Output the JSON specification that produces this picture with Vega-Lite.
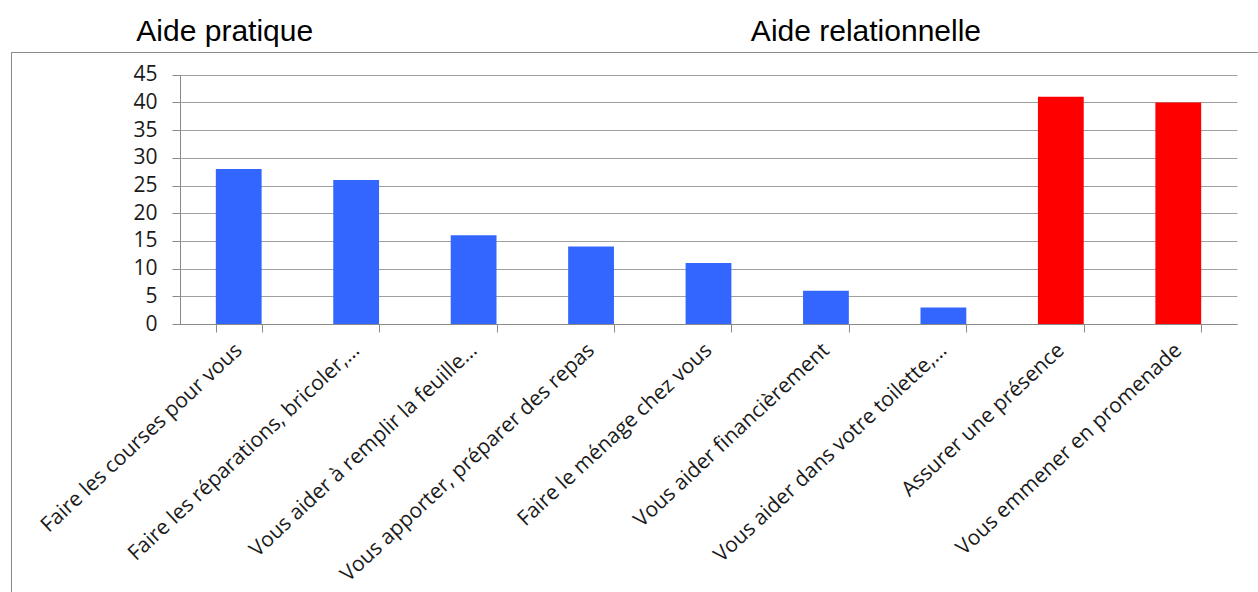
{
  "$schema": "https://vega.github.io/schema/vega-lite/v6.json",
  "autosize": {"type": "none"},
  "padding": {"left": 11, "top": 52, "right": 0, "bottom": 0},
  "width": 1247,
  "height": 540,
  "background": "white",
  "config": {
    "view": {"stroke": "#8a8a8a", "strokeWidth": 1, "strokeDash": [1247, 1787, 600]},
    "font": "Open Sans"
  },
  "datasets": {
    "aides": [
      {"aide": "Aide pratique", "libelle": "Faire les courses pour vous", "n": 28},
      {"aide": "Aide pratique", "libelle": "Faire les réparations, bricoler,…", "n": 26},
      {"aide": "Aide pratique", "libelle": "Vous aider à remplir la feuille…", "n": 16},
      {"aide": "Aide pratique", "libelle": "Vous apporter, préparer des repas", "n": 14},
      {"aide": "Aide pratique", "libelle": "Faire le ménage chez vous", "n": 11},
      {"aide": "Aide pratique", "libelle": "Vous aider financièrement", "n": 6},
      {"aide": "Aide pratique", "libelle": "Vous aider dans votre toilette,…", "n": 3},
      {"aide": "Aide relationnelle", "libelle": "Assurer une présence", "n": 41},
      {"aide": "Aide relationnelle", "libelle": "Vous emmener en promenade", "n": 40}
    ]
  },
  "data": {"name": "aides"},
  "layer": [
    {
      "mark": {"type": "bar", "stroke": null},
      "encoding": {
        "x": {
          "field": "libelle",
          "type": "nominal",
          "sort": null,
          "title": null,
          "scale": {"range": [169, 1226], "paddingInner": 0.61, "paddingOuter": 0.305},
          "axis": {
            "orient": "bottom",
            "offset": -268,
            "tickBand": "extent",
            "tickSize": 8,
            "tickColor": "#8a8a8a",
            "domainColor": "#8a8a8a",
            "labelAngle": -43,
            "labelAlign": "right",
            "labelBaseline": "middle",
            "labelPadding": 15,
            "labelFont": "Open Sans",
            "labelFontSize": 21,
            "labelColor": "#1a1a1a",
            "labelLimit": 450,
            "labelOverlap": false,
            "grid": false
          }
        },
        "y": {
          "field": "n",
          "type": "quantitative",
          "title": null,
          "scale": {"domain": [0, 45], "range": [272, 22.7], "nice": false},
          "axis": {
            "offset": -169,
            "values": [0, 5, 10, 15, 20, 25, 30, 35, 40, 45],
            "tickSize": 8,
            "tickColor": "#8a8a8a",
            "domainColor": "#8a8a8a",
            "grid": true,
            "gridColor": "#a0a0a0",
            "gridWidth": 1,
            "labelPadding": 15,
            "labelFont": "Open Sans",
            "labelFontSize": 21,
            "labelColor": "#1a1a1a"
          }
        },
        "color": {
          "field": "aide",
          "type": "nominal",
          "scale": {"domain": ["Aide pratique", "Aide relationnelle"], "range": ["#3366ff", "#ff0000"]},
          "legend": null
        }
      }
    },
    {
      "transform": [{"filter": "datum.libelle === 'Faire les courses pour vous'"}],
      "mark": {"type": "text", "font": "Liberation Sans", "fontSize": 30, "align": "center", "baseline": "alphabetic", "dx": -14, "color": "#000000"},
      "encoding": {
        "x": {"field": "libelle", "type": "nominal", "sort": null},
        "y": {"datum": 51.1, "type": "quantitative"},
        "text": {"field": "aide"}
      }
    },
    {
      "transform": [{"filter": "datum.libelle === 'Vous aider financièrement'"}],
      "mark": {"type": "text", "font": "Liberation Sans", "fontSize": 30, "align": "center", "baseline": "alphabetic", "dx": 40, "color": "#000000"},
      "encoding": {
        "x": {"field": "libelle", "type": "nominal", "sort": null},
        "y": {"datum": 51.1, "type": "quantitative"},
        "text": {"value": "Aide relationnelle"}
      }
    }
  ]
}
